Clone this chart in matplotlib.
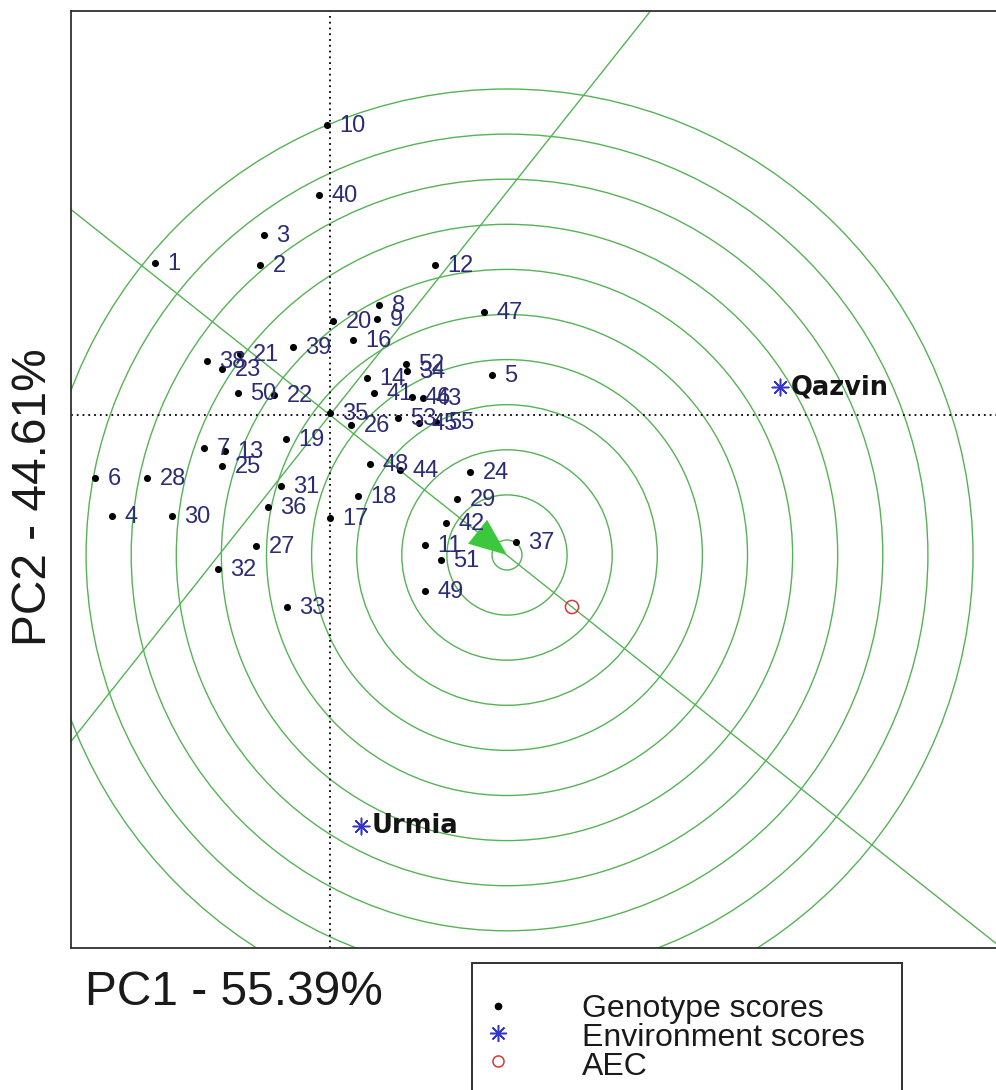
import matplotlib
matplotlib.use('Agg')
import matplotlib.pyplot as plt
import numpy as np
from matplotlib.patches import Circle, FancyArrowPatch, Rectangle
from matplotlib.lines import Line2D

# ---------------- data (PC scores) ----------------
genotypes = ['1', '2', '3', '4', '5', '6', '7', '8', '9', '10',
             '11', '12', '13', '14', '16', '17', '18', '19', '20', '21',
             '22', '23', '24', '25', '26', '27', '28', '29', '30', '31',
             '32', '33', '34', '35', '36', '37', '38', '39', '40', '41',
             '42', '43', '44', '45', '46', '47', '48', '49', '50', '51',
             '52', '53', '55']
pc1 = [-1.75, -0.70, -0.66, -2.18, 1.62, -2.35, -1.26, 0.49, 0.47, -0.03,
       0.95, 1.05, -1.05, 0.37, 0.23, 0.00, 0.28, -0.44, 0.03, -0.90,
       -0.56, -1.08, 1.40, -1.08, 0.21, -0.74, -1.83, 1.27, -1.58, -0.49,
       -1.12, -0.43, 0.77, 0.00, -0.62, 1.86, -1.23, -0.37, -0.11, 0.44,
       1.16, 0.93, 0.70, 0.89, 0.82, 1.54, 0.40, 0.95, -0.92, 1.11,
       0.76, 0.68, 1.06]
pc2 = [1.52, 1.50, 1.80, -1.01, 0.40, -0.63, -0.33, 1.10, 0.96, 2.90,
       -1.30, 1.50, -0.36, 0.37, 0.75, -1.03, -0.81, -0.24, 0.94, 0.61,
       0.20, 0.46, -0.57, -0.51, -0.10, -1.31, -0.63, -0.84, -1.01, -0.71,
       -1.54, -1.92, 0.44, 0.02, -0.92, -1.27, 0.54, 0.68, 2.20, 0.22,
       -1.08, 0.17, -0.55, -0.08, 0.18, 1.03, -0.49, -1.76, 0.22, -1.45,
       0.51, -0.03, -0.07]

environments = ['Qazvin', 'Urmia']
env_pc1 = [4.50, 0.31]
env_pc2 = [0.28, -4.11]

aec_point = [2.42, -1.92]       # average environment coordinate marker
ideal_point = [1.77, -1.40]     # ideal genotype (centre of rings)
ring_first = 0.15
ring_step = 0.451
n_rings = 11

pc1_label = 'PC1 - 55.39%'
pc2_label = 'PC2 - 44.61%'
legend_labels = ['Genotype scores', 'Environment scores', 'AEC']

# ---------------- layout ----------------
W, H = 996, 1090
fig = plt.figure(figsize=(W / 100, H / 100), dpi=100)
fig.patch.set_facecolor('white')
ax_l, ax_r, ax_t, ax_b = 71, 1003, 11, 948
ax = fig.add_axes([ax_l / W, 1 - ax_b / H, (ax_r - ax_l) / W, (ax_b - ax_t) / H])
ox, oy, unit = 330, 415, 100.0
ax.set_xlim((ax_l - ox) / unit, (ax_r - ox) / unit)
ax.set_ylim((oy - ax_b) / unit, (oy - ax_t) / unit)
ax.set_xticks([])
ax.set_yticks([])
for s in ax.spines.values():
    s.set_linewidth(1.3)
    s.set_color('#303030')

green = '#55b355'

# dotted axes through origin
ax.axhline(0, color='black', lw=1.3, ls=(0, (1, 2.2)), zorder=2)
ax.axvline(0, color='black', lw=1.3, ls=(0, (1, 2.2)), zorder=2)

# AEC abscissa and ordinate
ax.axline((0, 0), (aec_point[0], aec_point[1]), color=green, lw=1.0, zorder=1)
ax.axline((0, 0), (-aec_point[1], aec_point[0]), color=green, lw=1.0, zorder=1)

# concentric rings around ideal genotype
for k in range(n_rings):
    ax.add_patch(Circle((ideal_point[0], ideal_point[1]), ring_first + k * ring_step,
                        fill=False, ec=green, lw=1.0, zorder=1))

# arrow head pointing to the ideal genotype
arr = FancyArrowPatch((0, 0), (ideal_point[0], ideal_point[1]),
                      arrowstyle='-|>,head_length=27,head_width=11',
                      mutation_scale=1, color='#3cc83c', lw=0,
                      shrinkA=0, shrinkB=0, zorder=4)
ax.add_patch(arr)

# genotype scores
ax.scatter(pc1, pc2, s=26, color='black', zorder=5, linewidths=0)
for g, x, y in zip(genotypes, pc1, pc2):
    ax.annotate(g, (x, y), xytext=(9.0, -1.0), textcoords='offset points',
                ha='left', va='center', fontsize=17, color='#2c2c74',
                family='Liberation Sans', zorder=6)

# environment scores
ax.scatter(env_pc1, env_pc2, marker=(8, 2, 0), s=140, color='#3535c8',
           linewidths=1.1, zorder=5)
for e, x, y in zip(environments, env_pc1, env_pc2):
    ax.annotate(e, (x, y), xytext=(8, 0), textcoords='offset points',
                ha='left', va='center', fontsize=18.5, color='#141414',
                family='DejaVu Sans', fontweight='bold', zorder=6)

# AEC marker
ax.scatter([aec_point[0]], [aec_point[1]], marker='o', s=90, facecolors='none',
           edgecolors='#d23a3a', linewidths=1.1, zorder=5)

# axis labels
fig.text(85 / W, 1 - 1005 / H, pc1_label, fontsize=34.5, family='Liberation Sans',
         ha='left', va='baseline', color='#1a1a1a')
fig.text(34 / W, 1 - 497 / H, pc2_label, fontsize=34.5, family='Liberation Sans',
         ha='center', va='center', rotation=90, color='#1a1a1a')

# legend (box runs off the bottom of the figure as in the original)
fig.add_artist(Rectangle((472 / W, 1 - 1130 / H), (902 - 472) / W, (1130 - 963) / H,
                         transform=fig.transFigure, fill=False, ec='#303030', lw=1.4))
leg_y = [1006, 1033, 1061]
leg_base = [1017, 1046, 1075]
fig.add_artist(Line2D([498 / W], [1 - leg_y[0] / H], marker='o', ms=4.5, color='black',
                      ls='none', transform=fig.transFigure))
fig.add_artist(Line2D([498 / W], [1 - leg_y[1] / H], marker=(8, 2, 0), ms=12,
                      mec='#3535c8', mew=1.1, ls='none', transform=fig.transFigure))
fig.add_artist(Line2D([498 / W], [1 - leg_y[2] / H], marker='o', ms=8, mfc='none',
                      mec='#d23a3a', mew=1.1, ls='none', transform=fig.transFigure))
for lab, yb in zip(legend_labels, leg_base):
    fig.text(582 / W, 1 - yb / H, lab, fontsize=23, family='Liberation Sans',
             ha='left', va='baseline', color='#1a1a1a')

fig.savefig('out.png', dpi=100)
